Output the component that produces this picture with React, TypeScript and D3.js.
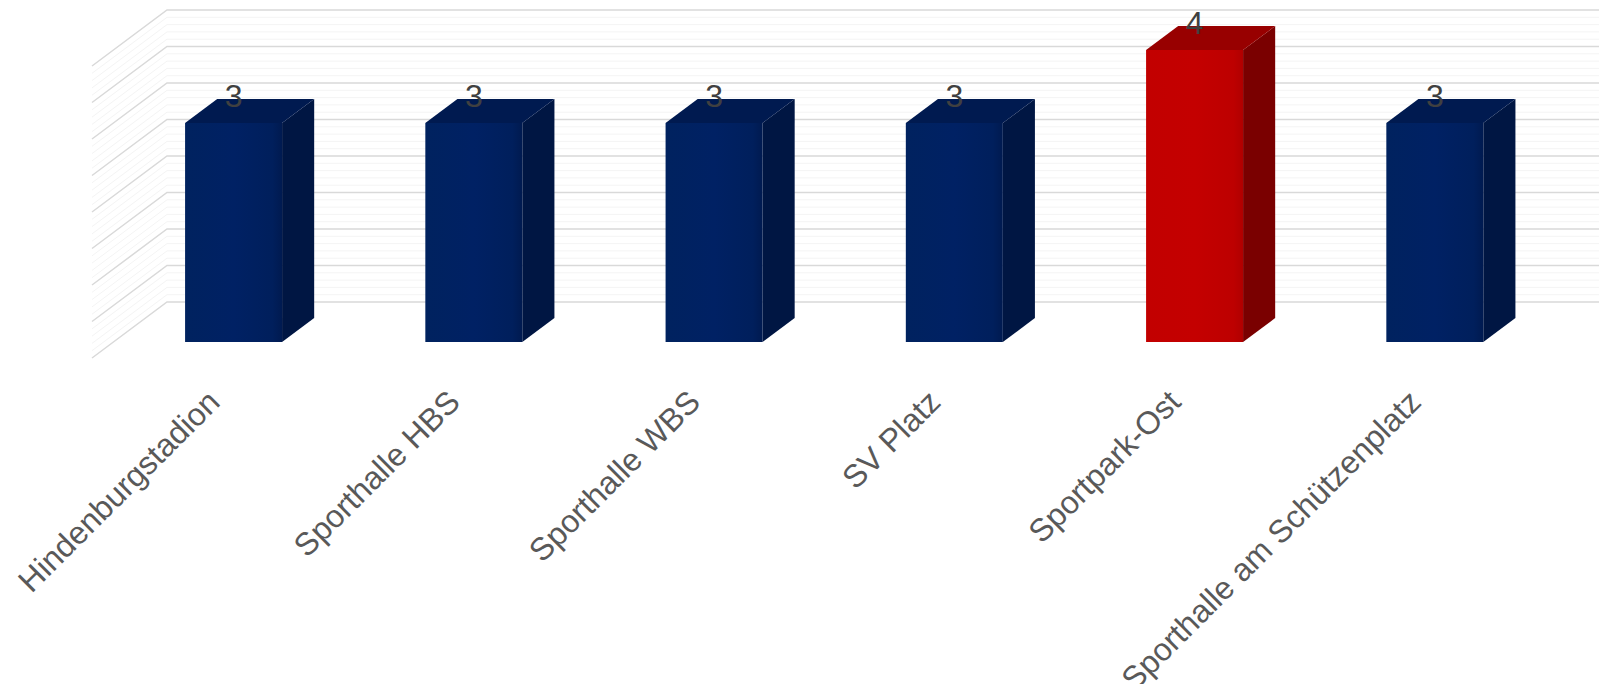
import React from "react";
import * as d3 from "d3";

const categories = [
  "Hindenburgstadion",
  "Sporthalle HBS",
  "Sporthalle WBS",
  "SV Platz",
  "Sportpark-Ost",
  "Sporthalle am Schützenplatz",
];
const values = [3, 3, 3, 3, 4, 3];
const majorTicks = [0, 0.5, 1, 1.5, 2, 2.5, 3, 3.5, 4];
const minorTicks = d3.range(0, 40).map((i) => i / 10).filter((t) => Math.abs(t * 2 - Math.round(t * 2)) > 1e-6);

const W = 1599;
const H = 684;
const DEPTH_X = 75;
const DEPTH_Y = 56;
const Z0 = 0.286;
const Z1 = 0.714;
const BAR_W = 97;

const BLUE = { front: "#002062", side: "#001643", top: "#001a50" };
const RED = { front: "#c00000", side: "#7a0000", top: "#980000" };

export default function App() {
  const y = d3.scaleLinear().domain([0, 4]).range([358, 66]);
  const x = d3.scaleBand<string>().domain(categories).range([92, 92 + 6 * 240.25]);
  const step = x.step();
  const proj = (px: number, v: number, z: number): [number, number] => [
    px + z * DEPTH_X,
    y(v) - z * DEPTH_Y,
  ];
  const x0 = x.range()[0];
  const wallRight = W + 20;
  const maxV = d3.max(values) as number;
  const line = d3.line();

  const gridLine = (t: number, stroke: string, sw: number, key: string) => {
    const a = proj(x0, t, 0);
    const b = proj(x0, t, 1);
    const c: [number, number] = [wallRight, b[1]];
    return (
      <path
        key={key}
        d={line([a, b, c]) as string}
        fill="none"
        stroke={stroke}
        strokeWidth={sw}
      />
    );
  };

  return (
    <svg
      width={W}
      height={H}
      style={{ position: "absolute", left: 0, top: 0, background: "#ffffff" }}
      fontFamily="'Liberation Sans', Arial, sans-serif"
    >
      <defs>
        <linearGradient id="gBlue" x1="0" x2="1" y1="0" y2="0">
          <stop offset="0" stopColor="#00225f" />
          <stop offset="0.5" stopColor="#002164" />
          <stop offset="0.9" stopColor="#001f5c" />
          <stop offset="1" stopColor="#001a50" />
        </linearGradient>
        <linearGradient id="gRed" x1="0" x2="1" y1="0" y2="0">
          <stop offset="0" stopColor="#c20000" />
          <stop offset="0.5" stopColor="#c40000" />
          <stop offset="0.9" stopColor="#bd0000" />
          <stop offset="1" stopColor="#b00000" />
        </linearGradient>
      </defs>
      <g>
        {minorTicks.map((t, i) => gridLine(t, "#f4f4f4", 1, "mi" + i))}
        {majorTicks.map((t, i) => gridLine(t, "#d9d9d9", 1.5, "ma" + i))}
      </g>
      <g>
        {categories.map((c, i) => {
          const v = values[i];
          const pal = v === maxV ? RED : BLUE;
          const grad = v === maxV ? "url(#gRed)" : "url(#gBlue)";
          const left = (x(c) as number) + (step - BAR_W) / 2;
          const right = left + BAR_W;
          const fBL = proj(left, 0, Z0);
          const fBR = proj(right, 0, Z0);
          const fTL = proj(left, v, Z0);
          const fTR = proj(right, v, Z0);
          const bBR = proj(right, 0, Z1);
          const bTL = proj(left, v, Z1);
          const bTR = proj(right, v, Z1);
          const side = line([fBR, fTR, bTR, bBR]) + "Z";
          const top = line([fTL, bTL, bTR, fTR]) + "Z";
          const front = line([fBL, fTL, fTR, fBR]) + "Z";
          const cx = (left + right) / 2 + Z0 * DEPTH_X;
          return (
            <g key={c}>
              <path d={side} fill={pal.side} />
              <path d={top} fill={pal.top} />
              <path d={front} fill={grad} />
              <text
                x={cx}
                y={fTL[1] - 16}
                textAnchor="middle"
                fontSize={32}
                fill="#404040"
              >
                {v}
              </text>
            </g>
          );
        })}
      </g>
      <g>
        {categories.map((c, i) => {
          const cx = (x(c) as number) + step / 2 + Z0 * DEPTH_X - 12;
          const cy = 404;
          return (
            <text
              key={"l" + i}
              transform={`translate(${cx},${cy}) rotate(-45)`}
              textAnchor="end"
              fontSize={32}
              fill="#595959"
            >
              {c}
            </text>
          );
        })}
      </g>
    </svg>
  );
}
